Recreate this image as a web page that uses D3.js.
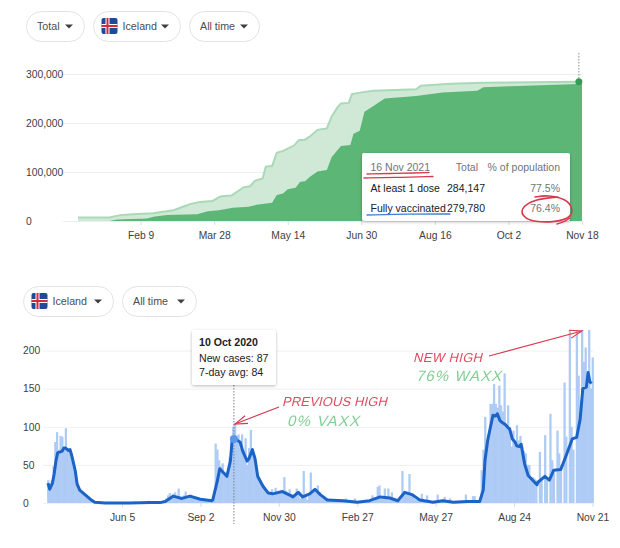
<!DOCTYPE html>
<html>
<head>
<meta charset="utf-8">
<script src="https://cdn.jsdelivr.net/npm/d3@7"></script>
<style>
  html, body { margin: 0; padding: 0; background: #fff; }
  svg { display: block; }
  text { font-family: "Liberation Sans", Arial, sans-serif; }
  .axis path { display: none; }
  .axis text { font-size: 10.3px; fill: #3c4043; }
</style>
</head>
<body>
<svg id="chart" width="620" height="548"></svg>
<script>
// --- vaccination chart, values in thousands, days counted from 31 Dec 2020 ---
const doseStart = new Date(2020, 11, 31);
const doseEnd = new Date(2021, 10, 18);
const oneDoseDays = [0, 20, 27, 35, 48, 61, 67, 72, 78, 86, 91, 98, 106, 110, 113, 118, 120, 124, 127, 131, 138, 141, 145, 148, 153, 159, 162, 166, 168, 173, 175, 182, 189, 216, 219, 238, 259, 320, 322];
const oneDoseValues = [7, 7, 12, 14, 16, 22, 29, 35, 39, 41, 50, 52, 69, 71, 82, 87, 111, 112, 139, 143, 154, 165, 166, 172, 186, 189, 213, 233, 240, 241, 259, 263, 266, 269, 276, 280, 282, 284.147, 284.147];
const fullDays = [20, 25, 44, 49, 57, 76, 83, 90, 99, 109, 114, 124, 127, 131, 134, 139, 142, 145, 148, 153, 159, 162, 168, 174, 176, 180, 183, 189, 196, 216, 233, 255, 259, 276, 320, 322];
const fullValues = [0, 3, 5, 9, 12, 14, 20, 22, 27, 29, 33, 37, 53, 56, 65, 68, 80, 81, 90, 101, 104, 130, 153, 155, 178, 184, 223, 235, 250, 255, 262, 266, 273, 275, 279.78, 279.78];
const doseTicks = [new Date(2021, 1, 9), new Date(2021, 2, 28), new Date(2021, 4, 14), new Date(2021, 5, 30), new Date(2021, 7, 16), new Date(2021, 9, 2), doseEnd];
const doseYTicks = [0, 100, 200, 300];

// --- cases chart, one bar every 2 days from 13 Mar 2020 ---
const caseStart = new Date(2020, 2, 13);
const caseEnd = new Date(2021, 10, 21);
const caseBars = [
  30, 20, 30, 48, 80, 93, 70, 88, 87, 72, 98, 72, 68, 66, 60, 42, 30, 20, 17, 16,
  14, 11, 9, 7, 5, 4, 3, 2, 2, 1, 1, 1, 0, 1, 0, 0, 1, 0, 0, 1,
  0, 0, 1, 0, 0, 1, 0, 0, 1, 2, 1, 0, 1, 2, 1, 0, 1, 3, 1, 0,
  1, 0, 1, 1, 2, 1, 3, 6, 10, 13, 9, 12, 14, 7, 19, 8, 7, 10, 15, 8,
  9, 11, 7, 6, 7, 5, 5, 6, 4, 4, 3, 3, 3, 4, 12, 78, 70, 56, 48, 52,
  40, 35, 38, 60, 78, 100, 105, 87, 90, 72, 90, 70, 85, 50, 72, 96, 72, 60, 45, 35,
  30, 26, 22, 18, 14, 15, 12, 18, 10, 20, 14, 12, 13, 15, 34, 16, 12, 18, 12, 10,
  10, 19, 12, 6, 8, 42, 10, 4, 10, 40, 14, 16, 18, 23, 14, 8, 6, 4, 4, 6,
  6, 3, 4, 3, 3, 4, 3, 3, 4, 6, 3, 3, 2, 3, 6, 3, 2, 3, 2, 2,
  2, 1, 2, 3, 10, 3, 5, 21, 23, 6, 5, 19, 7, 19, 6, 14, 5, 4, 3, 3,
  4, 42, 10, 12, 14, 38, 12, 8, 5, 4, 4, 3, 12, 3, 2, 10, 3, 1, 1, 2,
  1, 11, 3, 2, 3, 8, 4, 3, 6, 2, 1, 1, 2, 1, 1, 2, 3, 11, 3, 1,
  1, 9, 9, 2, 2, 2, 43, 70, 113, 80, 91, 130, 130, 156, 130, 125, 154, 128, 120, 170,
  104, 128, 100, 74, 95, 75, 102, 82, 88, 74, 68, 65, 50, 50, 34, 34, 32, 30, 0, 67,
  30, 0, 89, 30, 0, 117, 56, 40, 0, 95, 65, 50, 0, 158, 87, 0, 227, 100, 70, 0,
  227, 167, 120, 227, 185, 204, 156, 227, 150, 191
];
const avgDays = [0, 2, 5, 7, 9, 11, 14, 16, 18, 20, 23, 25, 27, 31, 33, 36, 42, 48, 53, 65, 93, 116, 127, 133, 142, 152, 161, 173, 186, 187, 192, 195, 199, 203, 207, 209, 212, 218, 221, 226, 228, 232, 235, 238, 244, 250, 255, 266, 275, 278, 284, 289, 297, 303, 309, 317, 335, 351, 365, 377, 388, 397, 405, 413, 422, 437, 448, 460, 476, 490, 494, 496, 499, 505, 508, 510, 513, 515, 519, 522, 524, 527, 530, 532, 535, 537, 541, 545, 555, 556, 564, 569, 574, 582, 588, 595, 600, 604, 607, 611, 613, 615, 617];
const avgValues = [26, 18, 26, 38, 55, 66, 67, 68, 72, 72, 69, 70, 62, 42, 25, 17, 11, 5, 1, 0, 0, 0.5, 0.5, 2, 9, 6, 9, 5, 3, 4, 28, 45, 40, 35, 55, 82, 84, 80, 68, 55, 58, 70, 58, 35, 22, 13, 12, 15, 10, 8, 14, 8, 12, 18, 11, 4, 3, 1, 3, 8, 6.5, 3, 14, 11, 4, 1, 3, 1, 2, 2, 17, 56, 82, 115, 114, 117, 108, 106, 103, 99, 97, 84, 80, 75, 74, 77, 51, 36, 24, 27, 35, 30, 43, 44, 62, 84, 86, 110, 150, 152, 171, 159, 157];
const caseTicks = [new Date(2020, 5, 5), new Date(2020, 8, 2), new Date(2020, 10, 30), new Date(2021, 1, 27), new Date(2021, 4, 27), new Date(2021, 7, 24), caseEnd];
const caseYTicks = [0, 50, 100, 150, 200];
const hoverDate = new Date(2020, 9, 10);
const hoverAvg = 84;

const svg = d3.select("#chart");
const tickFormat = d3.timeFormat("%b %-d");

svg.append("defs").append("filter")
  .attr("id", "shadow")
  .attr("x", "-10%").attr("y", "-10%").attr("width", "120%").attr("height", "125%")
  .append("feDropShadow")
  .attr("dx", 0).attr("dy", 1).attr("stdDeviation", 1.5)
  .attr("flood-color", "#000").attr("flood-opacity", 0.28);

// --- pills above the charts ---
function flag(x, y) {
  const g = svg.append("g").attr("transform", `translate(${x},${y})`);
  g.append("rect").attr("width", 16).attr("height", 16).attr("rx", 2).attr("fill", "#1f4a9c");
  g.append("rect").attr("x", 4).attr("width", 4).attr("height", 16).attr("fill", "#fff");
  g.append("rect").attr("y", 6).attr("width", 16).attr("height", 4).attr("fill", "#fff");
  g.append("rect").attr("x", 5).attr("width", 2).attr("height", 16).attr("fill", "#d8283c");
  g.append("rect").attr("y", 7).attr("width", 16).attr("height", 2).attr("fill", "#d8283c");
}

function pill(x, y, w, label, hasFlag) {
  const h = 31;
  svg.append("rect")
    .attr("x", x + 0.5).attr("y", y + 0.5)
    .attr("width", w - 1).attr("height", h - 1)
    .attr("rx", 15).attr("fill", "#fff").attr("stroke", "#e1e3e6");
  if (hasFlag) flag(x + 8.5, y + 7);
  svg.append("text")
    .attr("x", x + (hasFlag ? 29.5 : 11)).attr("y", y + 19)
    .attr("font-size", 10.7).attr("fill", "#4a4d51")
    .text(label);
  const cx = x + w - 16;
  svg.append("path")
    .attr("d", `M${cx - 4},${y + 13.5}L${cx + 4},${y + 13.5}L${cx},${y + 17.5}Z`)
    .attr("fill", "#3c4043");
}

pill(26, 11, 59, "Total", false);
pill(93, 11, 88, "Iceland", true);
pill(189, 11, 71, "All time", false);
pill(23, 286, 91, "Iceland", true);
pill(122, 286, 75, "All time", false);

// --- top chart ---
const xDose = d3.scaleTime().domain([doseStart, doseEnd]).range([78, 582]);
const yDose = d3.scaleLinear().domain([0, 300]).range([221, 74]);
const doseDate = d => d3.timeDay.offset(doseStart, d);

const doseYAxis = svg.append("g")
  .attr("class", "axis")
  .attr("transform", "translate(581,0)")
  .call(d3.axisLeft(yDose).tickValues(doseYTicks).tickSize(518).tickFormat(d => d3.format(",")(d * 1000)));
doseYAxis.selectAll("line").attr("stroke", "#eceef0");
doseYAxis.selectAll("text").attr("text-anchor", "start").attr("x", -555);

const oneDose = oneDoseDays.map((d, i) => ({ date: doseDate(d), value: oneDoseValues[i] }));
const full = fullDays.map((d, i) => ({ date: doseDate(d), value: fullValues[i] }));

const doseArea = d3.area().x(d => xDose(d.date)).y0(yDose(0)).y1(d => yDose(d.value));
const doseLine = d3.line().x(d => xDose(d.date)).y(d => yDose(d.value));

svg.append("path").datum(oneDose).attr("d", doseArea).attr("fill", "#d0e9d6");
svg.append("path").datum(oneDose).attr("d", doseLine).attr("fill", "none").attr("stroke", "#a9d9b6").attr("stroke-width", 2);
svg.append("path").datum(full).attr("d", doseArea).attr("fill", "#5cb676");

const doseXAxis = svg.append("g")
  .attr("class", "axis")
  .attr("transform", "translate(0,221)")
  .call(d3.axisBottom(xDose).tickValues(doseTicks).tickSize(4).tickPadding(7).tickFormat(tickFormat));
doseXAxis.selectAll("line").attr("stroke", "#dadce0");

const doseHover = doseDate(320);
svg.append("line")
  .attr("x1", xDose(doseHover)).attr("x2", xDose(doseHover))
  .attr("y1", 53).attr("y2", yDose(284.147))
  .attr("stroke", "#8a8d91").attr("stroke-dasharray", "1.5,1.5");
svg.append("circle")
  .attr("cx", xDose(doseHover)).attr("cy", yDose(284.147))
  .attr("r", 3.5).attr("fill", "#2f9e57");

// tooltip of the top chart
svg.append("rect")
  .attr("x", 362).attr("y", 153).attr("width", 208).attr("height", 68)
  .attr("rx", 2).attr("fill", "#fff").attr("filter", "url(#shadow)");

const tipRows = [
  ["16 Nov 2021", "Total", "% of population", 171, "#70757a", "#70757a", "#70757a", 478],
  ["At least 1 dose", "284,147", "77.5%", 192, "#202124", "#202124", "#70757a", 485],
  ["Fully vaccinated", "279,780", "76.4%", 212, "#202124", "#202124", "#70757a", 485]
];
tipRows.forEach(r => {
  svg.append("text").attr("x", 370.5).attr("y", r[3]).attr("font-size", 10.5).attr("fill", r[4]).text(r[0]);
  svg.append("text").attr("x", r[7]).attr("y", r[3]).attr("font-size", 10.5).attr("fill", r[5]).attr("text-anchor", "end").text(r[1]);
  svg.append("text").attr("x", 560).attr("y", r[3]).attr("font-size", 10.5).attr("fill", r[6]).attr("text-anchor", "end").text(r[2]);
});

// --- bottom chart ---
const xCases = d3.scaleTime().domain([caseStart, caseEnd]).range([48, 592.5]);
const yCases = d3.scaleLinear().domain([0, 200]).range([503, 350.5]);
const caseDate = d => d3.timeDay.offset(caseStart, d);

const caseYAxis = svg.append("g")
  .attr("class", "axis")
  .attr("transform", "translate(593,0)")
  .call(d3.axisLeft(yCases).tickValues(caseYTicks).tickSize(550));
caseYAxis.selectAll("line").attr("stroke", "#eef0f2");
caseYAxis.selectAll("text").attr("text-anchor", "start").attr("x", -570);

const barWidth = xCases(caseDate(2)) - xCases(caseDate(0));
svg.selectAll(".case-bar")
  .data(caseBars)
  .join("rect")
  .attr("class", "case-bar")
  .attr("x", (d, i) => xCases(caseDate(i * 2)) - barWidth / 2)
  .attr("y", d => yCases(d))
  .attr("width", barWidth + 0.5)
  .attr("height", d => yCases(0) - yCases(d))
  .attr("fill", "#aecbf5");

const caseXAxis = svg.append("g")
  .attr("class", "axis")
  .attr("transform", "translate(0,503)")
  .call(d3.axisBottom(xCases).tickValues(caseTicks).tickSize(4).tickPadding(7).tickFormat(tickFormat));
caseXAxis.selectAll("line").attr("stroke", "#dadce0");

const avg = avgDays.map((d, i) => ({ date: caseDate(d), value: avgValues[i] }));
svg.append("path")
  .datum(avg)
  .attr("d", d3.line().x(d => xCases(d.date)).y(d => yCases(d.value)))
  .attr("fill", "none")
  .attr("stroke", "#1c63c7")
  .attr("stroke-width", 3)
  .attr("stroke-linejoin", "round");

svg.append("line")
  .attr("x1", xCases(hoverDate)).attr("x2", xCases(hoverDate))
  .attr("y1", 385).attr("y2", 524)
  .attr("stroke", "#7d8186").attr("stroke-dasharray", "1.5,1.5");
svg.append("circle")
  .attr("cx", xCases(hoverDate)).attr("cy", yCases(hoverAvg))
  .attr("r", 4).attr("fill", "#5b97ea");

// tooltip of the bottom chart
svg.append("rect")
  .attr("x", 192).attr("y", 330).attr("width", 84).attr("height", 55)
  .attr("rx", 2).attr("fill", "#fff").attr("filter", "url(#shadow)");
svg.append("text").attr("x", 199).attr("y", 346).attr("font-size", 10.6).attr("font-weight", "bold").attr("fill", "#202124").text("10 Oct 2020");
svg.append("text").attr("x", 199).attr("y", 362).attr("font-size", 10.6).attr("fill", "#202124").text("New cases: 87");
svg.append("text").attr("x", 199).attr("y", 376).attr("font-size", 10.6).attr("fill", "#202124").text("7-day avg: 84");

// --- pen marks on top of the screenshot ---
const pen = d3.line().curve(d3.curveBasis);
function stroke(points, color, width) {
  svg.append("path")
    .attr("d", pen(points))
    .attr("fill", "none")
    .attr("stroke", color)
    .attr("stroke-width", width)
    .attr("stroke-linecap", "round");
}

const redPen = "#d9394f";
const bluePen = "#3f7fd6";
stroke([[367, 174], [390, 173.5], [415, 173], [429, 172.5]], redPen, 1.3);
stroke([[364, 178], [395, 177.5], [433, 176.5]], redPen, 1.3);
stroke([[367, 215], [410, 214], [450, 214]], bluePen, 1.3);
stroke([[558, 197], [535, 199], [519, 209], [525, 219], [537, 222], [555, 222], [571, 218], [573, 208], [566, 199], [548, 195], [535, 197]], redPen, 1.6);
stroke([[557, 224], [564, 222], [570, 218]], redPen, 1.4);

function arrow(x1, y1, x2, y2, color) {
  svg.append("line").attr("x1", x1).attr("y1", y1).attr("x2", x2).attr("y2", y2)
    .attr("stroke", color).attr("stroke-width", 1.2);
  const a = Math.atan2(y2 - y1, x2 - x1);
  const head = [-0.32, 0.32].map(t => [x2 - 13 * Math.cos(a + t), y2 - 13 * Math.sin(a + t)]);
  svg.append("path")
    .attr("d", `M${head[0]}L${x2},${y2}L${head[1]}`)
    .attr("fill", "none").attr("stroke", color).attr("stroke-width", 1.1);
}
arrow(279, 407, 235, 424, redPen);
arrow(489, 356, 582, 331, redPen);

function scrawl(x, y, len, size, label, color) {
  svg.append("text")
    .attr("transform", `translate(${x},${y}) skewX(-14)`)
    .attr("font-size", size)
    .attr("textLength", len)
    .attr("lengthAdjust", "spacing")
    .attr("fill", color)
    .attr("opacity", 0.9)
    .text(label);
}
const greenPen = "#74c98a";
scrawl(282, 406, 105, 13, "PREVIOUS HIGH", redPen);
scrawl(287, 426, 72, 15, "0% VAXX", greenPen);
scrawl(413, 362, 69, 13, "NEW HIGH", redPen);
scrawl(416, 381, 85, 15, "76% WAXX", greenPen);
</script>
</body>
</html>
